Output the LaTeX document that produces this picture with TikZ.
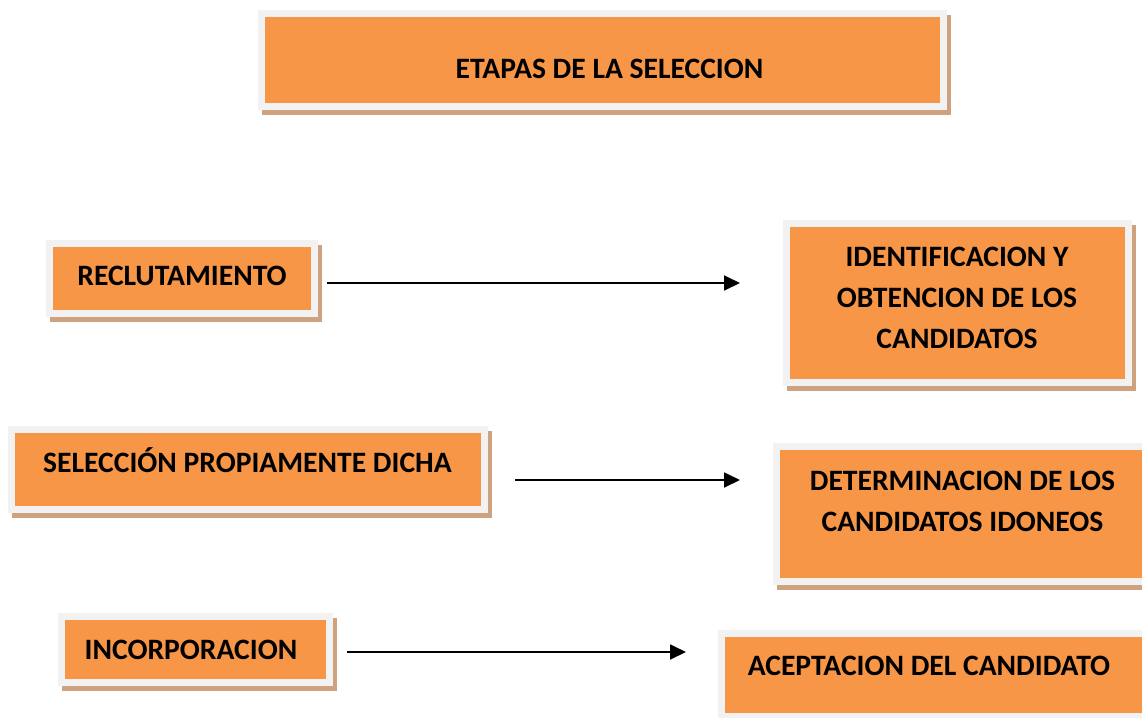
\documentclass[tikz,border=0pt]{standalone}
\usepackage{fontspec}
\setmainfont{Carlito}
\usetikzlibrary{arrows.meta}
\definecolor{naranja}{HTML}{F79646}
\definecolor{marco}{HTML}{F2F2F2}
\definecolor{sombra}{HTML}{CFA27F}

\begin{document}
\begin{tikzpicture}[x = 1pt, y = -1pt,
    caja/.style = {rectangle, inner sep = 0pt, fill = naranja, draw = marco, line width = 7pt,
        preaction = {fill = sombra, draw = sombra, transform canvas = {xshift = 3.5pt, yshift = -5pt}}},
    texto/.style = {font = \bfseries\fontsize{29.6}{41}\selectfont, align = center, inner sep = 0pt},
    linea/.style = {text height = 19pt, text depth = 0pt},
    flecha/.style = {line width = 1.8pt, -{Triangle[length = 16pt, width = 15pt]}}]
    \useasboundingbox (0,0) rectangle (1142,717);
    \clip (0,0) rectangle (1142,717);

    \node [caja, minimum width = 682pt, minimum height = 93pt] (etapas) at (602.5,60) {};
    \node [texto, linea] (etapasT) at (609.5,69) {ETAPAS DE LA SELECCION};

    \node [caja, minimum width = 265pt, minimum height = 70pt] (reclutamiento) at (182,278.5) {};
    \node [texto, linea] (reclutamientoT) at (182,275.5) {RECLUTAMIENTO};
    \node [caja, minimum width = 342pt, minimum height = 159pt] (identificacion) at (957.5,303) {};
    \node [texto] (identificacionT) at (957,297.5) {IDENTIFICACION Y\\OBTENCION DE LOS\\CANDIDATOS};

    \node [caja, minimum width = 473pt, minimum height = 80pt] (seleccion) at (248,469.5) {};
    \node [texto, linea] (seleccionT) at (247.5,462.5) {SELECCIÓN PROPIAMENTE DICHA};
    \node [caja, minimum width = 380pt, minimum height = 135pt] (determinacion) at (966.5,514) {};
    \node [texto] (determinacionT) at (962.5,501) {DETERMINACION DE LOS\\CANDIDATOS IDONEOS};

    \node [caja, minimum width = 268pt, minimum height = 66pt] (incorporacion) at (195.5,649.5) {};
    \node [texto, linea] (incorporacionT) at (191,650) {INCORPORACION};
    \node [caja, minimum width = 440pt, minimum height = 83pt] (aceptacion) at (941.5,675) {};
    \node [texto, linea] (aceptacionT) at (929,665.5) {ACEPTACION DEL CANDIDATO};

    \draw [flecha] ([shift = {(9,4.5)}]reclutamiento.east) -- ([shift = {(-43,-20)}]identificacion.west);
    \draw [flecha] ([shift = {(27,10.5)}]seleccion.east) -- ([shift = {(-33,-34)}]determinacion.west);
    \draw [flecha] ([shift = {(14,2.5)}]incorporacion.east) -- ([shift = {(-32,-23)}]aceptacion.west);
\end{tikzpicture}
\end{document}
